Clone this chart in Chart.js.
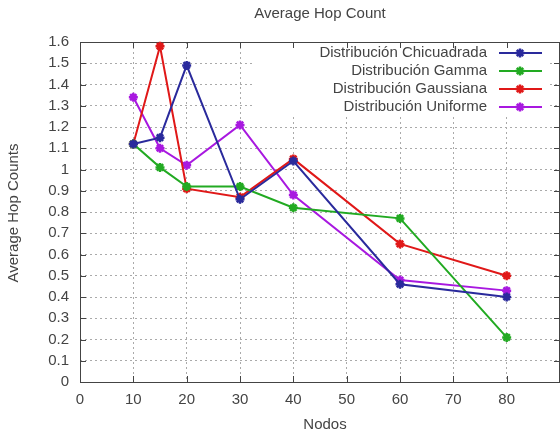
<!DOCTYPE html>
<html><head><meta charset="utf-8">
<script src="https://cdn.jsdelivr.net/npm/chart.js@4/dist/chart.umd.min.js"></script>
<style>html,body{margin:0;padding:0;background:#fff}#wrap{width:560px;height:435px}</style>
</head><body><div id="wrap"><canvas id="c" width="560" height="435"></canvas></div>
<script>
const nodos = [10, 15, 20, 30, 40, 60, 80];
const chicuadrada = [1.12, 1.15, 1.49, 0.86, 1.04, 0.46, 0.40];
const gamma = [1.12, 1.01, 0.92, 0.92, 0.82, 0.77, 0.21];
const gaussiana = [1.12, 1.58, 0.91, 0.87, 1.05, 0.65, 0.50];
const uniforme = [1.34, 1.10, 1.02, 1.21, 0.88, 0.48, 0.43];
const seriesNames = ['Distribución Chicuadrada', 'Distribución Gamma', 'Distribución Gaussiana', 'Distribución Uniforme'];
const seriesColors = ['#2a2a9c', '#22aa22', '#e01818', '#a818e0'];
const chartTitle = 'Average Hop Count';
const xTitle = 'Nodos';
const yTitle = 'Average Hop Counts';

const FONT = '"Liberation Sans", Arial, sans-serif';
const TXT = '#444';

function mk(name, vals, color) {
  return {
    label: name,
    data: nodos.map((x, i) => ({x: x, y: vals[i]})),
    borderColor: color, backgroundColor: color,
    borderWidth: 2, pointStyle: 'star', pointRadius: 4.5, pointBorderWidth: 2.5,
    pointHoverRadius: 4.5, tension: 0, fill: false, clip: false
  };
}
const allVals = [chicuadrada, gamma, gaussiana, uniforme];

const deco = {
  id: 'deco',
  beforeDatasetsDraw(chart) {
    const ctx = chart.ctx, a = chart.chartArea;
    const xs = chart.scales.x, ys = chart.scales.y;
    ctx.save();
    ctx.fillStyle = '#fff';
    ctx.fillRect(255, a.top + 1, 293, 74);
    ctx.strokeStyle = '#444';
    ctx.lineWidth = 1;
    ctx.strokeRect(Math.round(a.left) + 0.5, Math.round(a.top) + 0.5, Math.round(a.right - a.left) - 1, Math.round(a.bottom - a.top));
    ctx.beginPath();
    for (let v = 0; v <= 90; v += 10) {
      const px = Math.round(xs.getPixelForValue(v)) + 0.5;
      ctx.moveTo(px, a.bottom); ctx.lineTo(px, a.bottom - 6);
      ctx.moveTo(px, a.top); ctx.lineTo(px, a.top + 6);
    }
    for (let i = 0; i <= 16; i++) {
      const py = Math.round(ys.getPixelForValue(i / 10)) + 0.5;
      ctx.moveTo(a.left, py); ctx.lineTo(a.left + 6, py);
      ctx.moveTo(a.right, py); ctx.lineTo(a.right - 6, py);
    }
    ctx.stroke();
    ctx.restore();
  },
  afterDraw(chart) {
    const ctx = chart.ctx, a = chart.chartArea;
    ctx.save();
    ctx.fillStyle = TXT;
    ctx.font = '15px ' + FONT;
    ctx.textAlign = 'center'; ctx.textBaseline = 'middle';
    ctx.fillText(chartTitle, (a.left + a.right) / 2, 14);
    ctx.fillText(xTitle, (a.left + a.right) / 2 + 5, 425);
    ctx.translate(14, 213);
    ctx.rotate(-Math.PI / 2);
    ctx.fillText(yTitle, 0, 0);
    ctx.restore();
    ctx.save();
    ctx.font = '15px ' + FONT;
    ctx.textAlign = 'right'; ctx.textBaseline = 'middle';
    const ys0 = [53, 71, 89, 107];
    chart.data.datasets.forEach((ds, i) => {
      const y = ys0[i];
      ctx.fillStyle = TXT;
      ctx.fillText(ds.label, 487, y);
      ctx.strokeStyle = ds.borderColor;
      ctx.lineWidth = 2;
      ctx.beginPath(); ctx.moveTo(499, y); ctx.lineTo(542, y); ctx.stroke();
      ctx.lineWidth = 2.5;
      const r = 4.5, cx = 520;
      ctx.beginPath();
      ctx.moveTo(cx - r, y); ctx.lineTo(cx + r, y);
      ctx.moveTo(cx, y - r); ctx.lineTo(cx, y + r);
      const d = r * Math.SQRT1_2;
      ctx.moveTo(cx - d, y - d); ctx.lineTo(cx + d, y + d);
      ctx.moveTo(cx - d, y + d); ctx.lineTo(cx + d, y - d);
      ctx.stroke();
    });
    ctx.restore();
  }
};

new Chart(document.getElementById('c'), {
  type: 'line',
  data: { datasets: seriesNames.map((n, i) => mk(n, allVals[i], seriesColors[i])) },
  options: {
    responsive: false, animation: false,
    layout: { autoPadding: false, padding: { top: 42, right: 0, left: 0, bottom: 0 } },
    plugins: { legend: { display: false }, title: { display: false }, tooltip: { enabled: false } },
    scales: {
      x: {
        type: 'linear', min: 0, max: 90,
        afterFit(s) { s.height = 53; s.paddingLeft = 0; s.paddingRight = 0; },
        ticks: { stepSize: 10, color: TXT, font: { family: FONT, size: 15 }, padding: 9,
          maxRotation: 0, autoSkip: false,
          callback: v => (v >= 90 ? '' : String(v)) },
        grid: { color: '#aaa', lineWidth: 1, drawTicks: false },
        border: { display: false, dash: [2, 3] }
      },
      y: {
        min: 0, max: 1.6,
        afterFit(s) { s.width = 80; s.paddingTop = 0; s.paddingBottom = 0; },
        ticks: { stepSize: 0.1, color: TXT, font: { family: FONT, size: 15 }, padding: 11,
          autoSkip: false, callback: v => String(Number(v.toFixed(1))) },
        grid: { color: '#aaa', lineWidth: 1, drawTicks: false },
        border: { display: false, dash: [2, 3] }
      }
    }
  },
  plugins: [deco]
});
</script></body></html>
